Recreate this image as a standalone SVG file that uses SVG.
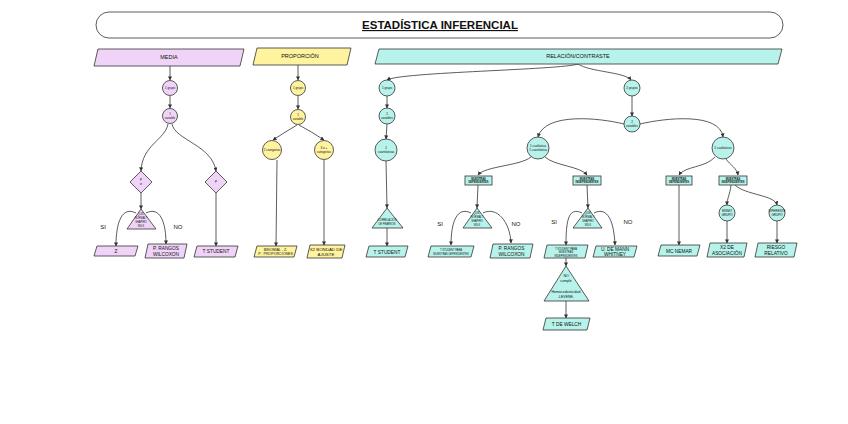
<svg xmlns="http://www.w3.org/2000/svg" width="848" height="424" viewBox="0 0 848 424">
<defs>
<marker id="arr" viewBox="0 0 10 10" refX="9" refY="5" markerUnits="userSpaceOnUse" markerWidth="4" markerHeight="4" orient="auto"><path d="M0,0 L10,5 L0,10 z" fill="#333"/></marker>
<style>
text{font-family:"Liberation Sans",Arial,sans-serif;fill:#111;text-anchor:middle}
.pur{fill:#f0d4f8;stroke:#333;stroke-width:0.8}
.yel{fill:#fff39f;stroke:#333;stroke-width:0.8}
.tea{fill:#b7f3ea;stroke:#333;stroke-width:0.8}
.hd{font-size:5.5px}
.c{font-size:3px}
.b{font-size:4.8px}
.s{font-size:2.6px;font-weight:bold}
.t{font-size:2.6px}
.lbl{font-size:6px}
#conn path{fill:none;stroke:#333;stroke-width:0.8;marker-end:url(#arr)}
</style>
</defs>
<rect width="848" height="424" fill="#fff"/>
<g id="title">
<rect x="96" y="12" width="687" height="26" rx="13" fill="#fff" stroke="#333" stroke-width="0.8"/>
<text x="440" y="29" style="font-size:11.5px;font-weight:bold;text-decoration:underline">ESTADÍSTICA INFERENCIAL</text>
</g>
<g id="conn">
<path d="M170,66 L170,80"/>
<path d="M170,96 L170,108"/>
<path d="M168,124 C165,140 142,145 141,171"/>
<path d="M172,124 C175,140 212,145 216,171"/>
<path d="M141,193 L141,209"/>
<path d="M216,193 L216,246"/>
<path d="M136,213 C122,206 116,222 116,246"/>
<path d="M146,213 C160,206 166,222 166,244"/>
<path d="M298,65 L298,80"/>
<path d="M298,96 L298,109"/>
<path d="M297,125 Q285,132 273,140"/>
<path d="M299,125 Q312,132 324,140"/>
<path d="M277,160 L276,246"/>
<path d="M324,160 L324,245"/>
<path d="M578,64 C560,70 400,72 387,80"/>
<path d="M578,64 C590,72 625,72 631,80"/>
<path d="M387,96 L387,108"/>
<path d="M387,124 L386,139"/>
<path d="M386,161 L387,208"/>
<path d="M387,228 L387,246"/>
<path d="M632,96 L632,116"/>
<path d="M624,124 C600,118 545,112 538,137"/>
<path d="M640,124 C665,118 720,112 723,137"/>
<path d="M531,157 C520,166 485,166 478,175"/>
<path d="M545,157 C555,166 580,166 587,175"/>
<path d="M478,185 L477,208"/>
<path d="M471,213 C457,206 451,222 451,245"/>
<path d="M483,213 C497,206 510,222 511,243"/>
<path d="M587,185 L588,208"/>
<path d="M582,213 C568,206 566,222 566,245"/>
<path d="M594,213 C608,206 614,222 615,245"/>
<path d="M566,258 L566,266"/>
<path d="M566,301 L566,318"/>
<path d="M715,157 C705,168 685,166 679,175"/>
<path d="M726,159 C730,165 737,168 738,175"/>
<path d="M731,185 C730,195 727,198 727,205"/>
<path d="M735,185 C745,195 775,195 777,205"/>
<path d="M679,185 L679,245"/>
<path d="M727,221 L727,243"/>
<path d="M777,221 L777,243"/>
</g>
<g id="labels">
<text class="lbl" x="103" y="229">SI</text>
<text class="lbl" x="178" y="229">NO</text>
<text class="lbl" x="440" y="226">SI</text>
<text class="lbl" x="516" y="226">NO</text>
<text class="lbl" x="554" y="224">SI</text>
<text class="lbl" x="628" y="224">NO</text>
</g>
<g id="media-head"><path class="pur" d="M98,49 L244,49 L240,66 L94,66 Z"/><text class="hd" x="169" y="59">MEDIA</text></g>
<g id="m-grupo"><circle class="pur" cx="170" cy="88" r="7.5"/><text class="c" x="170" y="89">1 grupo</text></g>
<g id="m-var"><circle class="pur" cx="170" cy="116" r="7.5"/><text class="c" x="170" y="115">1</text><text class="c" x="170" y="119">variable</text></g>
<g id="m-d1"><path class="pur" d="M141,171 L152,182 L141,193 L130,182 Z"/><text class="c" x="141" y="181">P</text><text class="c" x="141" y="185">σ</text></g>
<g id="m-d2"><path class="pur" d="M216,171 L227,182 L216,193 L205,182 Z"/><text class="c" x="216" y="183">P</text></g>
<g id="m-tri"><path class="pur" d="M141,209 L156,229 L127,229 Z"/><text class="t" x="141" y="215">¿DIS.</text><text class="t" x="141" y="219">NORMAL?</text><text class="t" x="141" y="223">SHAPIRO</text><text class="t" x="141" y="227">WILK</text></g>
<g id="m-z"><path class="pur" d="M97,246 L138,246 L135,256 L94,256 Z"/><text class="b" x="116" y="253">Z</text></g>
<g id="m-wil"><path class="pur" d="M148,244 L187,244 L184,258 L145,258 Z"/><text class="b" x="166" y="250">P. RANGOS</text><text class="b" x="166" y="256">WILCOXON</text></g>
<g id="m-ts"><path class="pur" d="M197,246 L238,246 L235,257 L194,257 Z"/><text class="b" x="216" y="253">T STUDENT</text></g>
<g id="prop-head"><path class="yel" d="M257,48 L351,48 L347,65 L253,65 Z"/><text class="hd" x="300" y="58">PROPORCIÓN</text></g>
<g id="p-grupo"><circle class="yel" cx="298" cy="88" r="7.5"/><text class="c" x="298" y="89">1 grupo</text></g>
<g id="p-var"><circle class="yel" cx="298" cy="117" r="7.5"/><text class="c" x="298" y="116">1</text><text class="c" x="298" y="120">variable</text></g>
<g id="p-2cat"><circle class="yel" cx="272" cy="150" r="9.5"/><text class="c" x="272" y="151">2 categorías</text></g>
<g id="p-3cat"><circle class="yel" cx="324" cy="150" r="9.5"/><text class="c" x="324" y="149">3 o +</text><text class="c" x="324" y="153">categorías</text></g>
<g id="p-bin"><path class="yel" d="M257,246 L297,246 L294,257 L254,257 Z"/><text class="c" x="275.5" y="250.5" style="font-size:3.6px">BINOMIAL - Z-</text><text class="c" x="275.5" y="255" style="font-size:3.6px">P . PROPORCIONES</text></g>
<g id="p-x2"><path class="yel" d="M310,245 L345,245 L342,258 L307,258 Z"/><text class="b" x="326" y="250.5" style="font-size:4.4px">X2 BONDAD DE</text><text class="b" x="326" y="256" style="font-size:4.4px">AJUSTE</text></g>
<g id="rel-head"><path class="tea" d="M379,49 L782,49 L778,64 L375,64 Z"/><text class="hd" x="578" y="58">RELACIÓN/CONTRASTE</text></g>
<g id="r-1g"><circle class="tea" cx="387" cy="88" r="8"/><text class="c" x="387" y="89">1 grupo</text></g>
<g id="r-2v"><circle class="tea" cx="387" cy="116" r="8"/><text class="c" x="387" y="115">2</text><text class="c" x="387" y="119">variables</text></g>
<g id="r-2cu"><circle class="tea" cx="386" cy="150" r="11"/><text class="c" x="386" y="149">2</text><text class="c" x="386" y="153">cuantitativas</text></g>
<g id="r-pear"><path class="tea" d="M387,208 L403,228 L372,228 Z"/><text class="t" x="387" y="221">CORRELACIÓN</text><text class="t" x="387" y="225">DE PEARSON</text></g>
<g id="r-ts"><path class="tea" d="M369,246 L408,246 L405,257 L366,257 Z"/><text class="b" x="387" y="253.5">T STUDENT</text></g>
<g id="r-2g"><circle class="tea" cx="632" cy="88" r="8"/><text class="c" x="632" y="89">2 grupos</text></g>
<g id="r-2v2"><circle class="tea" cx="632" cy="124" r="8"/><text class="c" x="632" y="123">2</text><text class="c" x="632" y="127">variables</text></g>
<g id="r-1c1c"><circle class="tea" cx="538" cy="148" r="11"/><text class="c" x="538" y="147">1 cualitativa</text><text class="c" x="538" y="151">1 cuantitativa</text></g>
<g id="r-2cl"><circle class="tea" cx="723" cy="148" r="11"/><text class="c" x="723" y="149">2 cualitativas</text></g>
<g id="r-md1"><rect class="tea" x="465" y="176" width="27" height="9"/><text class="s" x="478.5" y="179.8">MUESTRAS</text><text class="s" x="478.5" y="183">DEPENDIENTES</text></g>
<g id="r-mi1"><rect class="tea" x="573" y="176" width="28" height="9"/><text class="s" x="587" y="179.8">MUESTRAS</text><text class="s" x="587" y="183">INDEPENDIENTES</text></g>
<g id="r-tri1"><path class="tea" d="M477,208 L492,228 L463,228 Z"/><text class="t" x="477" y="214">¿DIS.</text><text class="t" x="477" y="218">NORMAL?</text><text class="t" x="477" y="222">SHAPIRO</text><text class="t" x="477" y="226">WILK</text></g>
<g id="r-tri2"><path class="tea" d="M588,208 L602,228 L573,228 Z"/><text class="t" x="588" y="214">¿DIS.</text><text class="t" x="588" y="218">NORMAL?</text><text class="t" x="588" y="222">SHAPIRO</text><text class="t" x="588" y="226">WILK</text></g>
<g id="r-tsd"><path class="tea" d="M431,246 L474,246 L471,257 L428,257 Z"/><text class="t" x="451" y="251">T STUDENT PARA</text><text class="t" x="451" y="254.5">MUESTRAS DEPENDIENTES</text></g>
<g id="r-wil"><path class="tea" d="M493,244 L533,244 L530,258 L490,258 Z"/><text class="b" x="511.5" y="250">P. RANGOS</text><text class="b" x="511.5" y="256">WILCOXON</text></g>
<g id="r-tsi"><path class="tea" d="M547,245 L588,245 L585,258 L544,258 Z"/><text class="t" x="566" y="249.5">T STUDENT PARA</text><text class="t" x="566" y="253">MUESTRAS</text><text class="t" x="566" y="256.5">INDEPENDIENTES</text></g>
<g id="r-mann"><path class="tea" d="M596,246 L637,246 L634,257 L593,257 Z"/><text class="b" x="615" y="250.5">U. DE MANN</text><text class="b" x="615" y="256">WHITNEY</text></g>
<g id="r-lev"><path class="tea" d="M566,266 L589,301 L544,301 Z"/><text class="c" x="566" y="277" style="font-size:3.5px">NO</text><text class="c" x="566" y="281.5" style="font-size:3.5px">cumple</text><text class="c" x="566" y="293" style="font-size:3.5px">Homocedasticidad</text><text class="c" x="566" y="297.5" style="font-size:3.5px">-LEVENE-</text></g>
<g id="r-welch"><path class="tea" d="M546,318 L590,318 L587,330 L543,330 Z"/><text class="b" x="566.5" y="326">T DE WELCH</text></g>
<g id="r-md2"><rect class="tea" x="666" y="176" width="26" height="9"/><text class="s" x="679" y="179.8">MUESTRAS</text><text class="s" x="679" y="183">DEPENDIENTES</text></g>
<g id="r-mi2"><rect class="tea" x="719" y="176" width="28" height="9"/><text class="s" x="733" y="179.8">MUESTRAS</text><text class="s" x="733" y="183">INDEPENDIENTES</text></g>
<g id="r-mismo"><circle class="tea" cx="727" cy="213" r="8"/><text class="c" x="727" y="212">MISMO</text><text class="c" x="727" y="216">GRUPO</text></g>
<g id="r-dif"><circle class="tea" cx="777" cy="213" r="8"/><text class="c" x="777" y="212">DIFERENTE</text><text class="c" x="777" y="216">GRUPO</text></g>
<g id="r-mcn"><path class="tea" d="M661,245 L700,245 L697,256 L658,256 Z"/><text class="b" x="679" y="252.5">MC NEMAR</text></g>
<g id="r-x2"><path class="tea" d="M710,243 L747,243 L744,257 L707,257 Z"/><text class="b" x="727" y="249">X2 DE</text><text class="b" x="727" y="255">ASOCIACIÓN</text></g>
<g id="r-rr"><path class="tea" d="M758,243 L797,243 L794,257 L755,257 Z"/><text class="b" x="776" y="249">RIESGO</text><text class="b" x="776" y="255">RELATIVO</text></g>
</svg>
